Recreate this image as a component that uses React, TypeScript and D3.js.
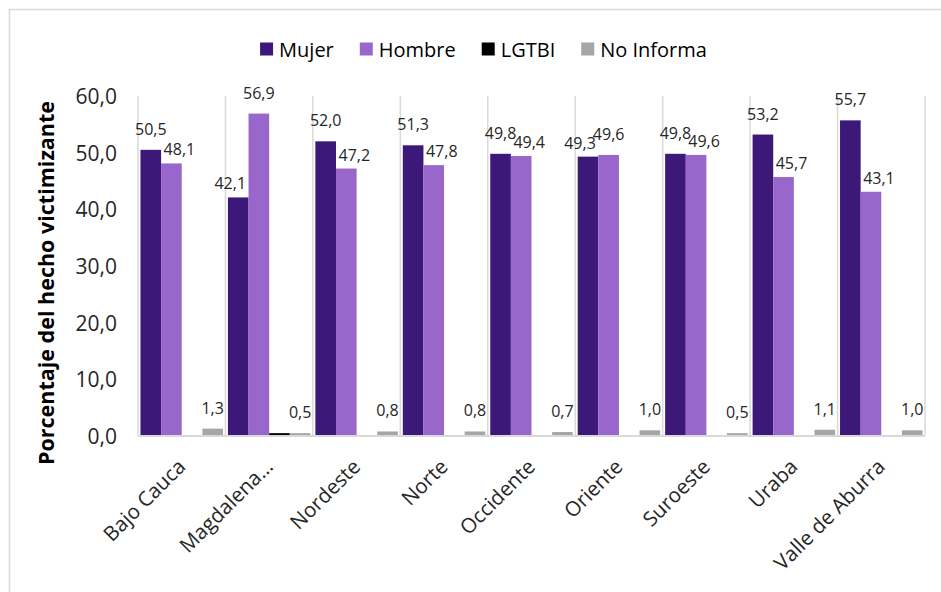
import React from "react";
import * as d3 from "d3";

const categories = ["Bajo Cauca", "Magdalena…", "Nordeste", "Norte", "Occidente", "Oriente", "Suroeste", "Uraba", "Valle de Aburra"];
const seriesNames = ["Mujer", "Hombre", "LGTBI", "No Informa"];
const mujer = [50.5, 42.1, 52.0, 51.3, 49.8, 49.3, 49.8, 53.2, 55.7];
const hombre = [48.1, 56.9, 47.2, 47.8, 49.4, 49.6, 49.6, 45.7, 43.1];
const lgtbi = [0, 0.5, 0, 0, 0, 0, 0, 0, 0];
const noInforma = [1.3, 0.5, 0.8, 0.8, 0.7, 1.0, 0.5, 1.1, 1.0];
const seriesColors = ["#3c1878", "#9966cc", "#000000", "#a6a6a6"];
const seriesShowLabels = [true, true, false, true];
const yTicks = [0, 10, 20, 30, 40, 50, 60];
const yTitle = "Porcentaje del hecho victimizante";

const W = 941;
const H = 592;
const FONT = "'Open Sans', sans-serif";
const fmt = (v: number) => d3.format(".1f")(v).replace(".", ",");

function measure(text: string, size: number, weight = "normal") {
  if (typeof document === "undefined") return text.length * size * 0.55;
  const c = document.createElement("canvas");
  const ctx = c.getContext("2d")!;
  ctx.font = `${weight} ${size}px 'Open Sans'`;
  return ctx.measureText(text).width;
}

export default function App() {
  const values = [mujer, hombre, lgtbi, noInforma];
  const x = d3.scaleBand<string>().domain(categories).range([138, 925]).paddingInner(0).paddingOuter(0);
  const xs = d3.scaleBand<string>().domain(seriesNames).range([0, x.bandwidth()]).paddingInner(0).paddingOuter(0.12);
  const y = d3.scaleLinear().domain([0, 60]).range([436, 96]);

  const sq = 13;
  const gapText = 6;
  const gapItem = 26;
  const legendFont = 20;
  const widths = seriesNames.map((s) => sq + gapText + measure(s, legendFont));
  const total = d3.sum(widths) + gapItem * (seriesNames.length - 1);
  let lx = 483.5 - total / 2;
  const legendItems = seriesNames.map((s, i) => {
    const item = { name: s, x: lx, color: seriesColors[i] };
    lx += widths[i] + gapItem;
    return item;
  });
  const legendY = 49;

  const boundaries = [...categories.map((c) => x(c)!), 925];

  return (
    <svg width={W} height={H} style={{ position: "absolute", left: 0, top: 0, display: "block", background: "#fff" }} fontFamily={FONT}>
      <rect x={9.5} y={9.5} width={940} height={600} fill="#fff" stroke="#d9d9d9" strokeWidth={1.5} />

      {legendItems.map((it) => (
        <g key={it.name}>
          <rect x={it.x} y={legendY - sq / 2} width={sq} height={sq} fill={it.color} />
          <text x={it.x + sq + gapText} y={legendY} dominantBaseline="central" fontSize={legendFont} fill="#000">
            {it.name}
          </text>
        </g>
      ))}

      {boundaries.map((bx, i) => (
        <line key={i} x1={bx} x2={bx} y1={y(60)} y2={y(0)} stroke="#d9d9d9" strokeWidth={1.5} />
      ))}

      {yTicks.map((t) => (
        <text key={t} x={117} y={y(t)} textAnchor="end" dominantBaseline="central" fontSize={21} fill="#262626">
          {fmt(t)}
        </text>
      ))}

      <text
        transform={`translate(45, 283) rotate(-90)`}
        textAnchor="middle"
        dominantBaseline="central"
        fontSize={21.5}
        fontWeight="bold"
        fill="#000"
      >
        {yTitle}
      </text>

      {categories.map((c, ci) => (
        <g key={c} transform={`translate(${x(c)},0)`}>
          {seriesNames.map((s, si) => {
            const v = values[si][ci];
            if (!v) return null;
            return (
              <rect key={s} x={xs(s)} y={y(v)} width={xs.bandwidth()} height={y(0) - y(v)} fill={seriesColors[si]} />
            );
          })}
        </g>
      ))}

      <line x1={138} x2={925} y1={y(0)} y2={y(0)} stroke="#d9d9d9" strokeWidth={2} />

      {categories.map((c, ci) => (
        <g key={c} transform={`translate(${x(c)},0)`}>
          {seriesNames.map((s, si) => {
            const v = values[si][ci];
            if (!v || !seriesShowLabels[si]) return null;
            let dx = 0;
            let off = 21;
            if (si < 2) {
              const other = values[1 - si][ci];
              if (other > v) {
                dx = si === 0 ? -8 : 8;
                off = 14;
              }
            }
            return (
              <text
                key={s}
                x={xs(s)! + xs.bandwidth() / 2 + dx}
                y={y(v) - off}
                textAnchor="middle"
                dominantBaseline="central"
                fontSize={16}
                fill="#262626"
              >
                {fmt(v)}
              </text>
            );
          })}
        </g>
      ))}

      {categories.map((c) => (
        <text
          key={c}
          transform={`translate(${x(c)! + x.bandwidth() / 2 + 5}, 468) rotate(-45)`}
          textAnchor="end"
          fontSize={20.5}
          fill="#262626"
        >
          {c}
        </text>
      ))}
    </svg>
  );
}
